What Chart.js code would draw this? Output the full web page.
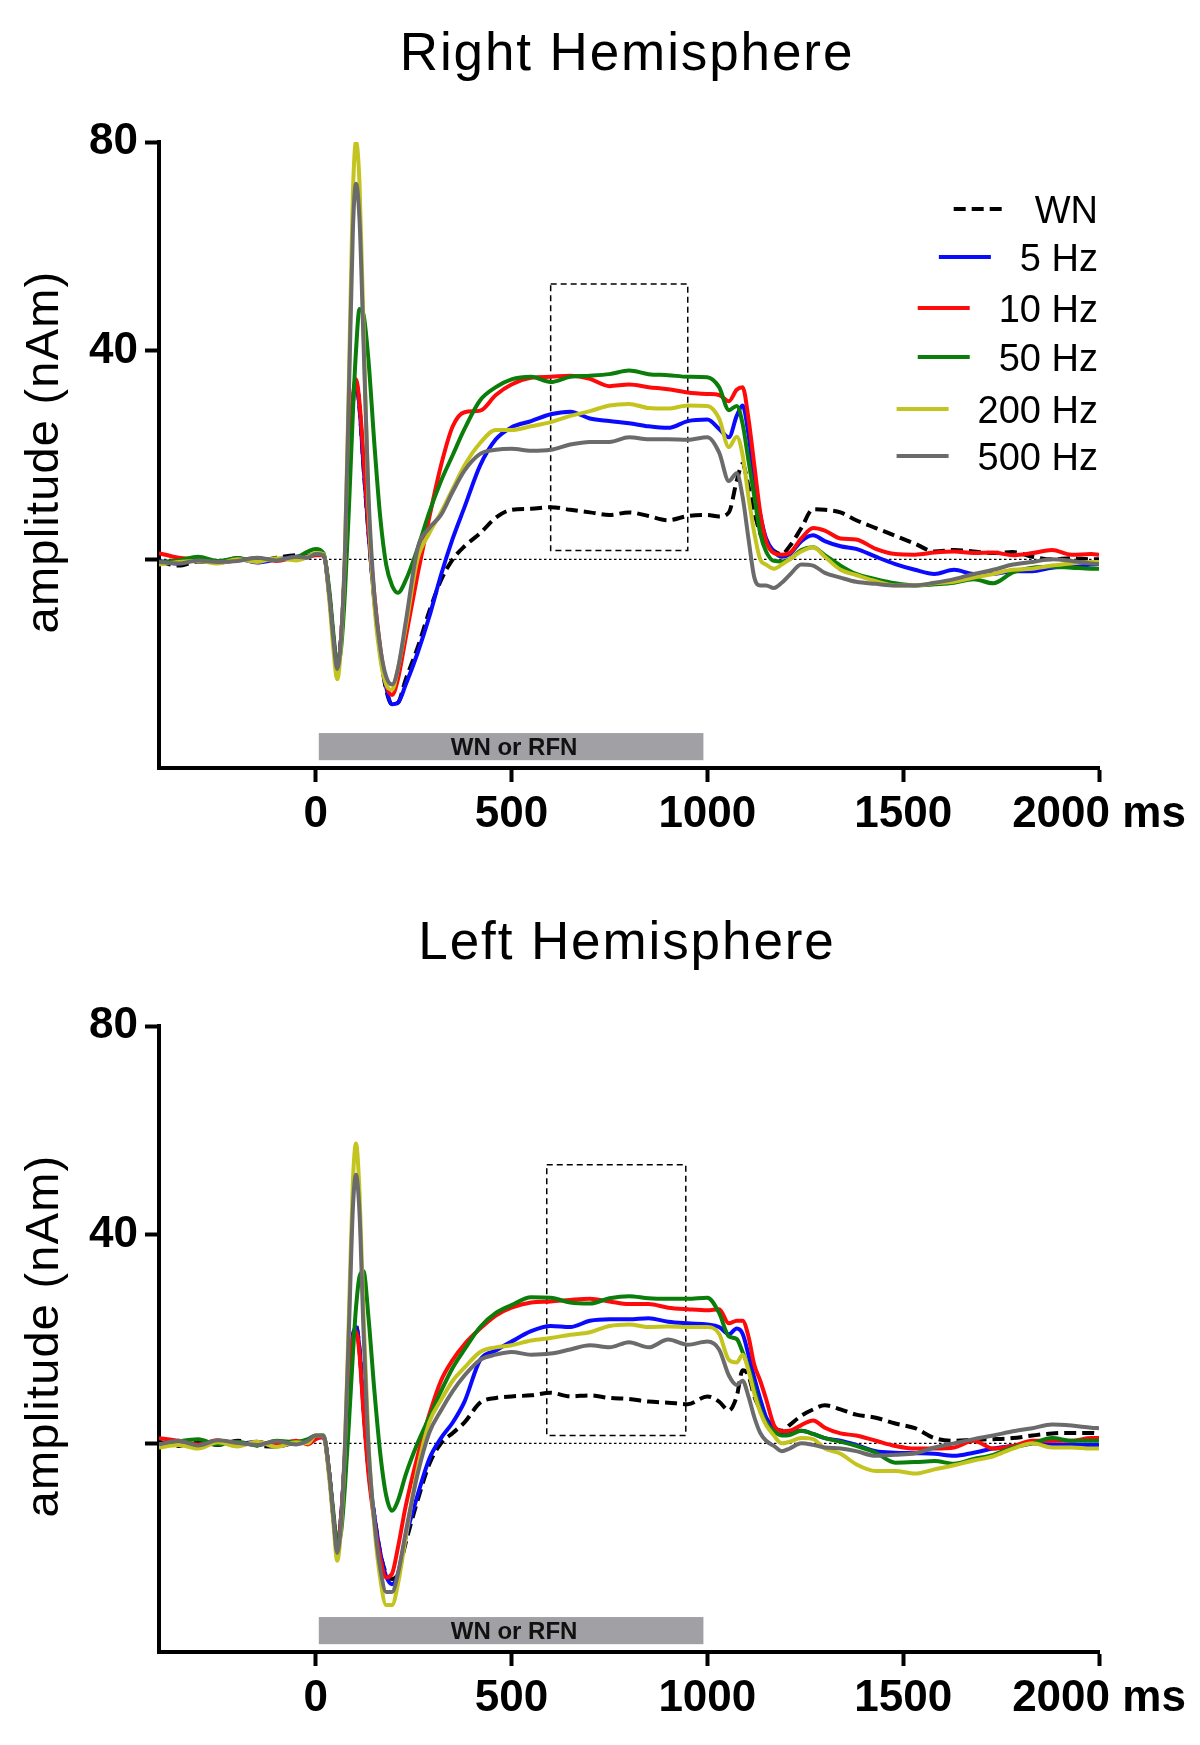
<!DOCTYPE html>
<html>
<head>
<meta charset="utf-8">
<script src="https://cdn.jsdelivr.net/npm/chart.js@4.4.1/dist/chart.umd.min.js"></script>
<style>
html,body{margin:0;padding:0;background:#ffffff;}
#wrap{position:relative;width:1200px;height:1745px;overflow:hidden;}
canvas{position:absolute;left:0;}
</style>
</head>
<body>
<div id="wrap">
<canvas id="chartRight" width="1200" height="884" style="top:0px"></canvas>
<canvas id="chartLeft" width="1200" height="861" style="top:884px"></canvas>
</div>
<script>
// ---------------- DATA ----------------
const timeMs = [
-400,-350,-300,-250,-200,-150,-100,-50,-20,0,
20,35,45,55,65,75,85,95,103,112,
122,135,150,165,180,195,210,230,260,290,
320,350,380,420,460,500,550,600,650,700,
750,800,850,900,950,1000,1030,1055,1075,1090,
1105,1120,1135,1150,1170,1190,1210,1240,1270,1300,
1340,1380,1430,1480,1530,1580,1630,1680,1730,1780,
1830,1880,1930,1980,2000];

const seriesLabels = ['WN', '5 Hz', '10 Hz', '50 Hz', '200 Hz', '500 Hz'];

// Right hemisphere (nAm)
const rightWN = [
-0.5,-1.2,-0.4,-0.6,0.2,-0.3,0.3,0.8,0.6,1.0,
0.8,-7,-15,-21,-15,-1,17,30,34,29,
18,5,-8,-18,-25,-27.8,-27.5,-23,-17,-10,
-4,0,2.5,5,8,9.5,9.7,10,9.5,9,
8.5,9,8.3,7.5,8.3,8.5,8.2,9,15,18.3,
14,9,5,3,1.6,1,2.5,6,9.6,9.5,
9,7.5,6,4.5,3,1.5,1.8,1.5,1.2,1.4,
0.5,0,0.2,0,0];
const right5Hz = [
-0.3,-0.8,0.2,-0.5,0.1,-0.6,0,0.5,0.7,1.0,
0.8,-7,-15,-21,-15,-1,18,30,34,29,
18,5,-8,-18,-24.5,-27.8,-27.5,-24,-18,-11,
-3,4,10,18,23,25.3,26.5,27.8,28.3,27,
26.5,26.1,25.5,25.2,26.5,26.8,25,23.4,27.5,29.5,
24,15,8.5,4,1.5,0.5,1,3.5,4.6,3.5,
2.5,2,0.5,-0.9,-2,-2.8,-2,-2.8,-2.8,-2.3,
-2.3,-1.6,-1.4,-1,-0.9];
const right10Hz = [
1.2,0.3,0,-0.6,-0.2,0.2,-0.3,0.4,0.5,0.8,
0.8,-7,-15,-21,-15,-1,18,31,34.5,30,
20,6,-7,-17,-24,-26,-23,-15,-3,8,
18,25.5,28.2,28.5,31.5,33.5,34.8,35,35.2,34.6,
33.2,33.5,33,32.6,32,31.7,31.5,30.3,32.5,33,
27,18,9,3.5,1.2,0.9,1.2,4,6,5.5,
4,3.8,2,1,0.9,1.3,1.5,1.2,1.3,0.8,
1.2,1.8,0.9,1.0,0.9];
const right50Hz = [
-0.5,-0.2,0.5,-0.3,0.2,-0.3,0,0.3,1.5,2.0,
1.2,-6,-14,-20,-17,-6,10,28,40,48,
47,38,22,8,-1,-5,-6.4,-4,2,9,
15,20,25,30.5,33,34.5,35,34,35,35.2,
35.5,36.2,35.5,35.3,35,34.9,33,28.6,29.4,26,
19,12,5,1.5,-0.3,-0.4,0,1.8,2.3,0.8,
-1.2,-2.8,-3.8,-4.6,-5,-4.8,-4.5,-3.8,-4.6,-2.5,
-1.6,-1.4,-1.6,-1.8,-1.8];
const right200Hz = [
-1.0,-0.5,-0.3,-0.8,0,-0.5,0.2,-0.2,0.5,1.2,
1.0,-8,-17,-23,-16,2,35,70,80,72,
45,10,-9,-19,-24,-25,-21,-13,0,5,
9,13.5,18,22.3,24.8,24.8,25.5,26.3,27.5,28.4,
29.5,29.8,29,28.9,29.5,29.4,27,21.5,23.5,20,
12,5,0,-1,-1.8,-1,0,1.5,2.3,0.5,
-2,-3,-4.2,-5,-5,-4.6,-4.3,-3.5,-2.8,-2,
-1.8,-1.2,-0.8,-0.5,-0.5];
const right500Hz = [
-0.5,-0.8,-0.2,-0.5,-0.3,0.3,-0.2,0.5,0.3,1.0,
0.8,-7,-15,-21,-15,2,32,63,72,65,
42,12,-7,-17,-22.5,-24,-21,-12,2,6,
8.5,13,17,20.2,21,21.2,20.8,21,22,22.5,
22.5,23.4,23,23,22.9,23.4,20.5,15,16.5,12,
4,-3.5,-5,-5,-5.5,-4.5,-3,-1,-1.2,-2.6,
-3.5,-4.3,-4.7,-5,-5,-4.5,-3.8,-2.8,-2,-1,
-0.5,0,-0.3,-0.8,-0.9];

// Left hemisphere (nAm)
const leftWN = [
0.3,-0.5,0.4,-0.3,0.5,-0.4,-0.6,0.2,0.6,1.2,
1.2,-6,-14,-20,-14,-2,12,20.5,22.5,18,
7,-5,-14,-21,-25,-26,-25,-19,-11,-4,
0,2,4,7.8,8.7,9,9.2,9.7,9,9.2,
8.7,8.5,8,7.8,7.5,9,8,6.3,9,14,
13,9,6.5,4.5,3,2.4,3.5,5.3,6.5,7.3,
6.5,5.5,4.9,3.8,2.9,1,0.5,0.7,0.8,1,
1.5,1.9,2,2,1.9];
const left5Hz = [
-0.5,0.2,-0.3,0.4,-0.2,0.3,-0.5,0.1,0.2,1.0,
1.2,-6,-14,-20,-14,-2,12,20.5,22.3,18,
7,-5,-14,-21,-25.5,-27,-25,-18,-10,-3,
1,4,8,16,17.8,19.5,21.5,22.5,22.3,23.5,
23.8,23.8,24,23.3,23,22.8,22.3,20.9,22,21,
17,12.5,8.5,5,3,1.9,2,2.4,1.8,1,
0.5,-0.3,-1.5,-1.8,-1.9,-2,-2.4,-1.8,-1,-0.5,
0,-0.2,-0.3,-0.3,-0.3];
const left10Hz = [
1.0,0.5,-0.2,0.6,-0.4,0.2,-0.3,0.5,-0.2,0.8,
1.2,-6,-14,-20,-14,-2,12,20,21.4,17,
6,-6,-15,-22,-25.7,-25,-20,-12,-2.5,5.5,
12,16,19,22,24.5,26,27,27.2,27.5,27.7,
27.2,26.7,26.7,26,25.7,25.5,25.7,23,23.5,23.5,
20.5,15,12,8.5,3.5,2.3,2.4,3.5,4.4,3,
1.9,1.5,0.5,-0.5,-1,-1,-0.8,0.5,-1,-0.5,
0.5,0.5,0.5,1,1];
const left50Hz = [
-0.3,0.4,0.8,-0.2,0.3,-0.4,0.5,0.2,0.8,1.5,
1.5,-6,-13,-19,-17,-8,4,17,26,32,
33,24,10,-2,-10,-12.9,-11,-6,0,5,
10,14.5,18,22.3,25,26.5,28,27.9,27,26.8,
27.8,28.2,27.8,27.7,27.7,27.9,25,20.5,20,17.5,
14.5,10.5,6.5,4,2.3,1.5,1.6,2.4,1.8,1,
0.3,-0.5,-1.8,-3.7,-3.6,-3.4,-3.9,-3,-2.2,-0.8,
0,1,0.5,0.5,0.5];
const left200Hz = [
-0.8,-0.3,-1,0.2,-0.6,0.3,-0.7,0.2,0,1.5,
1.5,-7,-15,-22.5,-16,0,25,50,57.5,48,
25,0,-16,-26,-31,-31,-27,-18,-5,4,
8.3,12,14.5,17.5,18.4,18.8,19.7,20.2,20.8,21.3,
22.5,22.8,22.3,22.4,22.3,22.3,21,16,15.5,17,
14,9.5,6,3.5,1.5,0,0.3,1,0.8,-1,
-2,-4,-5.3,-5.3,-5.8,-5,-4.2,-3.3,-2.5,-1,
0,-0.8,-0.8,-1,-1];
const left500Hz = [
-0.2,0.5,-0.4,0.6,0.1,-0.3,0.4,-0.2,0.5,1.5,
1.5,-6,-14,-21,-15,0,22,45,51.5,44,
22,-1,-15,-24,-28.5,-28.5,-25,-17,-6,2,
6.3,10,13,16,17,17.5,17,17.2,18,18.8,
18.4,19.4,18.4,19.9,18.9,19.5,18,13,11.2,12,
9,5,2,0.5,-0.5,-1.5,-1,0,-0.3,-0.8,
-1,-1.5,-2.4,-2.2,-1.9,-0.8,0,0.8,1.5,2.3,
2.9,3.6,3.4,3,2.9];

const xTickValues = [0, 500, 1000, 1500, 2000];
const xTickLabels = ['0', '500', '1000', '1500', '2000 ms'];
const yTickValues = [0, 40, 80];
const yTickLabels = ['', '40', '80'];

// stimulus bar [startMs, endMs, top nAm, bottom nAm] and analysis windows [startMs, endMs, low nAm, high nAm]
const stimulusBar = [8, 990, -33.3, -38.5];
const stimulusLabel = 'WN or RFN';
const rightWindow = [600, 950, 1.7, 52.8];
const leftWindow = [590, 945, 1.5, 53.4];

// ---------------- STYLE ----------------
const STYLE = {
  colors: ['#000000', '#0a0aff', '#ff0a0a', '#0a7d0a', '#c4c420', '#6b6b6b'],
  drawOrder: [5, 4, 3, 2, 1, 0],
  font: 'Liberation Sans, Arial, sans-serif'
};

const decorPlugin = {
  id: 'decor',
  beforeDatasetsDraw(chart, args, opts) {
    const ctx = chart.ctx, xs = chart.scales.x, ys = chart.scales.y;
    ctx.save();
    // zero line
    ctx.strokeStyle = '#000';
    ctx.lineWidth = 1.2;
    ctx.setLineDash([2.5, 2.5]);
    ctx.beginPath();
    ctx.moveTo(xs.getPixelForValue(xs.min), ys.getPixelForValue(0));
    ctx.lineTo(xs.getPixelForValue(xs.max), ys.getPixelForValue(0));
    ctx.stroke();
    // analysis window
    const w = opts.window;
    ctx.setLineDash([6, 4]);
    ctx.lineWidth = 1.5;
    const x1 = xs.getPixelForValue(w[0]), x2 = xs.getPixelForValue(w[1]);
    const y1 = ys.getPixelForValue(w[3]), y2 = ys.getPixelForValue(w[2]);
    ctx.strokeRect(x1, y1, x2 - x1, y2 - y1);
    ctx.setLineDash([]);
    // stimulus bar
    const bx1 = xs.getPixelForValue(stimulusBar[0]), bx2 = xs.getPixelForValue(stimulusBar[1]);
    const by1 = ys.getPixelForValue(stimulusBar[2]), by2 = ys.getPixelForValue(stimulusBar[3]);
    ctx.fillStyle = '#a1a1a5';
    ctx.fillRect(bx1, by1, bx2 - bx1, by2 - by1);
    ctx.fillStyle = '#111';
    ctx.font = 'bold 24px ' + STYLE.font;
    ctx.textAlign = 'center';
    ctx.textBaseline = 'alphabetic';
    ctx.fillText(stimulusLabel, (bx1 + bx2) / 2 + 3, (by1 + by2) / 2 + 8.6);
    ctx.restore();
  },
  afterDraw(chart, args, opts) {
    const ctx = chart.ctx;
    ctx.save();
    ctx.fillStyle = '#000';
    // chart title
    ctx.font = '53px ' + STYLE.font;
    ctx.textAlign = 'center';
    ctx.textBaseline = 'alphabetic';
    ctx.letterSpacing = '1.9px';
    ctx.fillText(opts.title, 627, opts.titleBaseline);
    // y axis title
    ctx.save();
    ctx.translate(58, 452);
    ctx.rotate(-Math.PI / 2);
    ctx.font = '47px ' + STYLE.font;
    ctx.letterSpacing = '1.2px';
    ctx.fillText('amplitude (nAm)', 0, 0);
    ctx.restore();
    ctx.letterSpacing = '0px';
    // legend
    if (opts.legend) {
      const rows = [209, 257, 308, 357, 409, 456];
      const fs = 38;
      ctx.font = fs + 'px ' + STYLE.font;
      ctx.textAlign = 'right';
      chart.data.datasets.forEach((ds, i) => {
        const y = rows[i];
        const tw = ctx.measureText(ds.label).width;
        const right = 1098;
        ctx.fillStyle = '#000';
        ctx.fillText(ds.label, right, y + fs * 0.358);
        const lx2 = right - tw - 29, lx1 = lx2 - 52;
        ctx.strokeStyle = ds.borderColor;
        ctx.lineWidth = 4;
        ctx.setLineDash(ds.borderDash || []);
        ctx.beginPath();
        ctx.moveTo(lx1, y);
        ctx.lineTo(lx2, y);
        ctx.stroke();
        ctx.setLineDash([]);
      });
    }
    ctx.restore();
  }
};

function makeChart(canvasId, title, titleBaseline, seriesList, windowBox, showLegend, xAxisHeight) {
  const tickFont = { family: STYLE.font, size: 44, weight: 'bold' };
  const gridCfg = { display: true, drawOnChartArea: false, drawTicks: true, tickLength: 14, tickWidth: 4, tickColor: '#000' };
  const datasets = seriesList.map((vals, i) => ({
    label: seriesLabels[i],
    data: timeMs.map((t, k) => ({ x: t, y: vals[k] })),
    borderColor: STYLE.colors[i],
    backgroundColor: STYLE.colors[i],
    borderWidth: 4,
    borderDash: i === 0 ? [12, 6] : [],
    pointRadius: 0,
    fill: false,
    cubicInterpolationMode: 'monotone',
    order: STYLE.drawOrder[i]
  }));
  return new Chart(document.getElementById(canvasId), {
    type: 'line',
    data: { datasets },
    plugins: [decorPlugin],
    options: {
      responsive: false,
      animation: false,
      devicePixelRatio: 1,
      layout: { padding: { top: 142, right: 101, bottom: 0, left: 0 } },
      plugins: {
        legend: { display: false },
        tooltip: { enabled: false },
        title: { display: false },
        decor: { title, titleBaseline, window: windowBox, legend: showLegend }
      },
      scales: {
        x: {
          type: 'linear', min: -400, max: 2000,
          afterBuildTicks: s => { s.ticks = xTickValues.map(v => ({ value: v })); },
          afterFit: s => { s.height = xAxisHeight; },
          ticks: {
            font: tickFont, color: '#000', padding: 6, maxRotation: 0, autoSkip: false,
            callback: v => xTickLabels[xTickValues.indexOf(v)]
          },
          grid: gridCfg,
          border: { display: true, color: '#000', width: 4 }
        },
        y: {
          type: 'linear', min: -40, max: 80,
          afterBuildTicks: s => { s.ticks = yTickValues.map(v => ({ value: v })); },
          afterFit: s => { s.width = 159; },
          ticks: {
            font: tickFont, color: '#000', padding: 7,
            callback: v => yTickLabels[yTickValues.indexOf(v)]
          },
          grid: gridCfg,
          border: { display: true, color: '#000', width: 4 }
        }
      }
    }
  });
}

makeChart('chartRight', 'Right Hemisphere', 70,
  [rightWN, right5Hz, right10Hz, right50Hz, right200Hz, right500Hz], rightWindow, true, 116);
makeChart('chartLeft', 'Left Hemisphere', 75,
  [leftWN, left5Hz, left10Hz, left50Hz, left200Hz, left500Hz], leftWindow, false, 93);
</script>
</body>
</html>
